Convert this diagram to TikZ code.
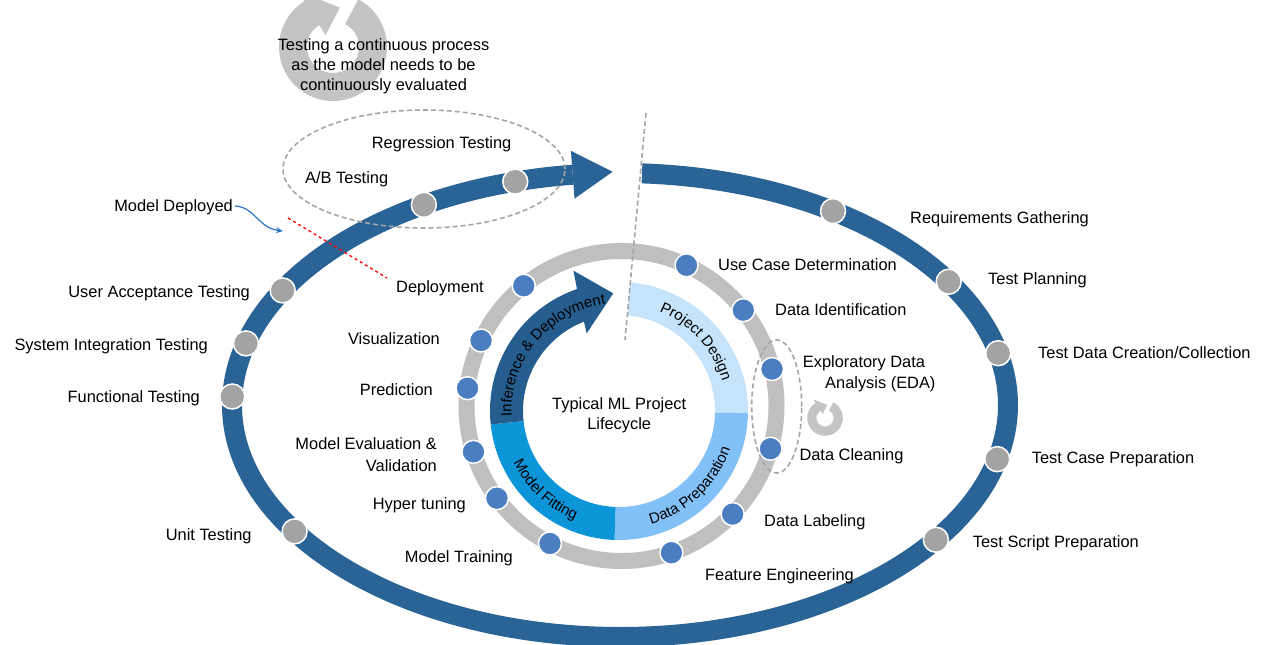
\documentclass[tikz,border=0pt]{standalone}
\usepackage{fontspec}
\setmainfont{Liberation Sans}
\usetikzlibrary{calc,arrows.meta,decorations.text}
\definecolor{bandblue}{HTML}{2A6395}
\definecolor{ringgray}{HTML}{BFBFBF}
\definecolor{dotgray}{HTML}{A3A3A3}
\definecolor{dotblue}{HTML}{4A7EC1}
\definecolor{pdblue}{HTML}{C5E3FB}
\definecolor{dpblue}{HTML}{82C1F7}
\definecolor{mfblue}{HTML}{0D95DA}
\definecolor{idblue}{HTML}{255D8E}
\definecolor{dashgray}{HTML}{A6A6A6}
\definecolor{linkblue}{HTML}{2E75C8}
\definecolor{icongray}{HTML}{C4C4C4}
\newcommand\lblfont{\fontsize{16.4}{20}\selectfont}
\newcommand\arcfont{\fontsize{15}{17}\selectfont}
% circular "repeat" icon: #1 centre, #2 scale
\newcommand\refreshicon[2]{%
  \begin{scope}[shift={#1}, scale=#2]
    \fill[icongray] (62:54) arc[start angle=62, end angle=-238, radius=54]
      -- (122:66) -- (80:40) -- (122:14) -- (122:26)
      arc[start angle=-238, end angle=62, radius=26] -- cycle;
  \end{scope}}
\begin{document}
\begin{tikzpicture}[x=1pt,y=1pt,
  lbl/.style={font=\lblfont, inner sep=0pt, text height=11.8pt, text depth=0pt},
  lblm/.style={font=\lblfont, inner sep=0pt},
  odot/.style={circle, fill=dotgray, draw=white, line width=1.5pt, minimum size=25pt, inner sep=0pt},
  idot/.style={circle, fill=dotblue, draw=white, line width=1.5pt, minimum size=23pt, inner sep=0pt},
  dashline/.style={draw=dashgray, line width=1.6pt, dash pattern=on 5pt off 3pt},
  arctext/.style={decorate, decoration={text along path, text align=center, text={|\arcfont|#1}}},
]
\useasboundingbox (0,0) rectangle (1261,-645);
\fill[white] (0,0) rectangle (1261,-645);

% background icon behind the note at the top
\refreshicon{(333,-47)}{1}

% outer testing loop
\coordinate (O) at (620,-405);
\draw[bandblue, line width=20pt] ($(O)+(86.75:388 and 232)$) coordinate (bandstart)
  arc[start angle=86.75, end angle=-263, x radius=388, y radius=232] coordinate (bandend);
\fill[bandblue] ($(bandend)+(-1.8,23.9)$) -- ($(bandend)+(39.9,3.0)$) -- ($(bandend)+(1.8,-23.9)$) -- cycle;

% testing stages on the outer loop
\node[odot] (rg) at ($(O)+(105.66:388 and 232)$) {};
\node[odot] (ab) at ($(O)+(120.37:388 and 232)$) {};
\node[odot] (uat) at ($(O)+(150.4:388 and 232)$) {};
\node[odot] (sit) at ($(O)+(164.6:388 and 232)$) {};
\node[odot] (ft) at ($(O)+(177.9:388 and 232)$) {};
\node[odot] (ut) at ($(O)+(213:388 and 232)$) {};
\node[odot] (rq) at ($(O)+(56.7:388 and 232)$) {};
\node[odot] (tp) at ($(O)+(32.1:388 and 232)$) {};
\node[odot] (td) at ($(O)+(12.9:388 and 232)$) {};
\node[odot] (tc) at ($(O)+(-13.5:388 and 232)$) {};
\node[odot] (ts) at ($(O)+(-35.5:388 and 232)$) {};

% group around the post-deployment tests
\draw[dashline] (424,-169) ellipse[x radius=141, y radius=59];

% project step ring
\coordinate (G) at (621.5,-406);
\draw[ringgray, line width=16pt] (G) circle[radius=155];
\foreach \a/\n in {65.2/uc, 38.2/di, 13.8/eda, -16/dc, -44.2/dl, -71.2/fe,
                   -117.5/mt, -143.5/ht, -162.8/me, 173.4/pr, 155/vi, 129.1/de}
  \node[idot] (\n) at ($(G)+(\a:155)$) {};

% lifecycle phases
\coordinate (C) at (619,-411);
\fill[pdblue] ($(C)+(85:129)$) arc[start angle=85, end angle=-1, radius=129]
  -- ($(C)+(-1:96)$) arc[start angle=-1, end angle=85, radius=96] -- cycle;
\fill[dpblue] ($(C)+(-1:129)$) arc[start angle=-1, end angle=-92, radius=129]
  -- ($(C)+(-92:96)$) arc[start angle=-92, end angle=-1, radius=96] -- cycle;
\fill[mfblue] ($(C)+(-92:129)$) arc[start angle=-92, end angle=-174, radius=129]
  -- ($(C)+(-174:96)$) arc[start angle=-174, end angle=-92, radius=96] -- cycle;
\fill[idblue] ($(C)+(186:129)$) arc[start angle=186, end angle=109, radius=129]
  -- ($(C)+(108:147.6)$) -- ($(C)+(92.8:117.8)$) -- ($(C)+(112.6:84.1)$)
  -- ($(C)+(111.4:96)$) arc[start angle=111.4, end angle=186, radius=96] -- cycle;

\path[arctext={Project Design}] ($(C)+(85:107.5)$) arc[start angle=85, end angle=-1, radius=107.5];
\path[arctext={Data Preparation}] ($(C)+(-92:117.5)$) arc[start angle=-92, end angle=-1, radius=117.5];
\path[arctext={Model Fitting}] ($(C)+(186:117.5)$) arc[start angle=186, end angle=268, radius=117.5];
\path[arctext={Inference {\&} Deployment}] ($(C)+(186:107.5)$) arc[start angle=186, end angle=94, radius=107.5];

\node[lblm, align=center, anchor=north] (core) at (619.2,-397.4) {Typical ML Project\\Lifecycle};

% EDA / cleaning iteration
\refreshicon{(825,-418)}{0.33}
\draw[dashline] (776.7,-406.5) ellipse[x radius=25, y radius=66.5];

% split between development and deployment
\coordinate (dtop) at (646,-113);
\coordinate (dbot) at (625,-340);
\draw[dashline] (dtop) -- (dbot);

% labels of the outer loop
\node[lblm, align=center, anchor=north] (note) at (383.5,-38.4)
  {Testing a continuous process\\as the model needs to be\\continuously evaluated};
\node[lbl, anchor=west] (rgl) at (371.7,-143) {Regression Testing};
\node[lbl, anchor=west] (abl) at (305,-178) {A/B Testing};
\node[lbl, anchor=east] (mdep) at (233,-206) {Model Deployed};
\node[lbl, anchor=east] (uatl) at (250,-291.7) {User Acceptance Testing};
\node[lbl, anchor=east] (sitl) at (208,-345) {System Integration Testing};
\node[lbl, anchor=east] (ftl) at (200,-396.7) {Functional Testing};
\node[lbl, anchor=east] (utl) at (251.7,-535) {Unit Testing};
\node[lbl, anchor=west] (rql) at (910,-218) {Requirements Gathering};
\node[lbl, anchor=west] (tpl) at (988,-279) {Test Planning};
\node[lbl, anchor=west] (tdl) at (1038,-352.7) {Test Data Creation/Collection};
\node[lbl, anchor=west] (tcl) at (1031.7,-457.3) {Test Case Preparation};
\node[lbl, anchor=west] (tsl) at (972.7,-541.7) {Test Script Preparation};

% labels of the project steps
\node[lbl, anchor=west] (ucl) at (718,-265) {Use Case Determination};
\node[lbl, anchor=west] (dil) at (775,-310) {Data Identification};
\node[lblm, align=left, anchor=north west, font=\fontsize{16.4}{21}\selectfont] (edal) at (802.7,-355.8)
  {Exploratory Data\\\hspace*{22.3pt}Analysis (EDA)};
\node[lbl, anchor=west] (dcl) at (799.3,-455) {Data Cleaning};
\node[lbl, anchor=west] (dll) at (764,-521) {Data Labeling};
\node[lbl, anchor=west] (fel) at (705,-575) {Feature Engineering};
\node[lbl, anchor=east] (mtl) at (513,-556.7) {Model Training};
\node[lbl, anchor=east] (htl) at (466,-503.3) {Hyper tuning};
\node[lblm, align=right, anchor=north east, font=\fontsize{16.4}{22}\selectfont] (mel) at (437,-437.1)
  {Model Evaluation \&\\Validation};
\node[lbl, anchor=east] (prl) at (433,-390) {Prediction};
\node[lbl, anchor=east] (vil) at (440,-339) {Visualization};
\node[lbl, anchor=west] (dep) at (396,-287) {Deployment};

% deployment marker on the outer loop
\coordinate (rdstart) at (288,-218);
\draw[red, line width=1.3pt, dash pattern=on 3pt off 3pt] (rdstart) -- ([shift={(-9,9)}]dep.west);
\coordinate (mdtip) at (283,-231);
\draw[linkblue, line width=1.2pt, -{Stealth[length=7pt,width=6pt]}]
  ([xshift=2pt]mdep.east) .. controls (255,-207) and (258,-228) .. (mdtip);
\end{tikzpicture}
\end{document}
